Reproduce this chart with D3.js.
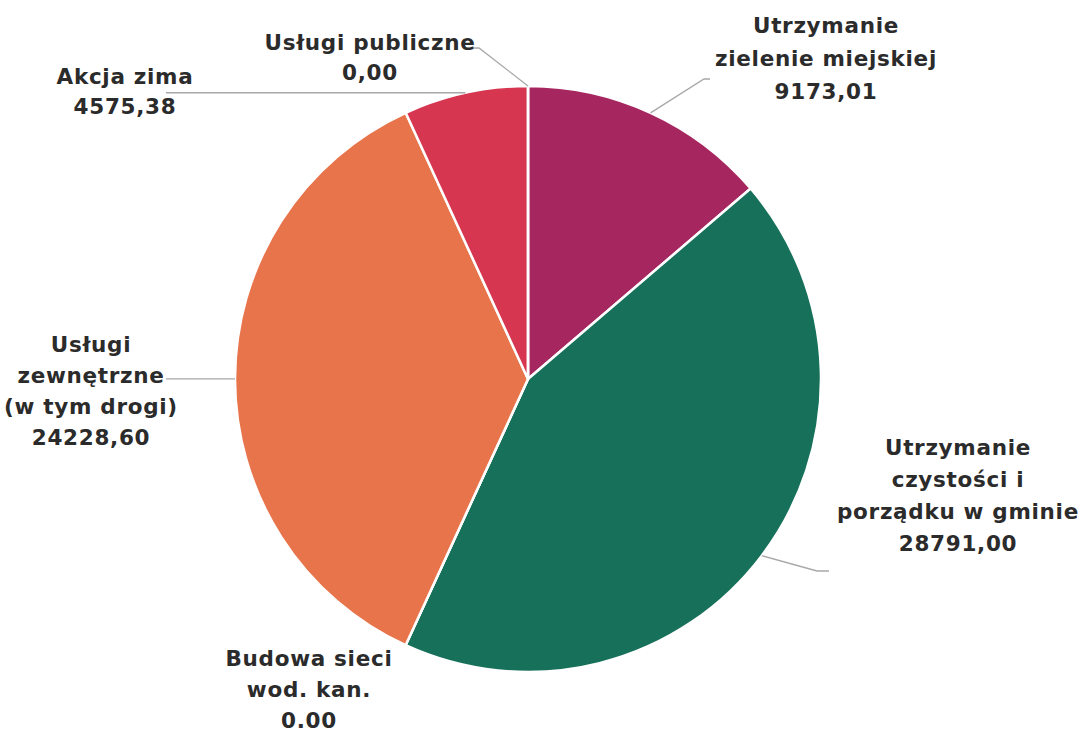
<!DOCTYPE html>
<html>
<head>
<meta charset="utf-8">
<script src="https://cdn.jsdelivr.net/npm/d3@7"></script>
<style>
  html, body { margin: 0; padding: 0; background: #ffffff; }
  svg { display: block; }
  text { font-family: "DejaVu Sans", sans-serif; font-weight: bold; fill: #2b2b2b; }
</style>
</head>
<body>
<svg id="chart" width="1086" height="733"></svg>
<script>
// ---- data ----
const categories = [
  ["Utrzymanie", "zielenie miejskiej"],
  ["Utrzymanie", "czystości i", "porządku w gminie"],
  ["Budowa sieci", "wod. kan."],
  ["Usługi", "zewnętrzne", "(w tym drogi)"],
  ["Akcja zima"],
  ["Usługi publiczne"]
];
const values = [9173.01, 28791.00, 0.00, 24228.60, 4575.38, 0.00];
const valueLabels = ["9173,01", "28791,00", "0.00", "24228,60", "4575,38", "0,00"];
const colors = ["#a62660", "#17705a", "#1f6f8b", "#e8744c", "#d63650", "#6b6b6b"];

// ---- layout (positions of labels, not data) ----
const cx = 528, cy = 379, R = 293;
const labelLayout = [
  { x: 826, y: 33,  lh: 33, lead: [[704, 79], [710, 79]] },
  { x: 958, y: 455, lh: 32, lead: [[817, 571], [829, 571]] },
  { x: 309, y: 666, lh: 31, lead: null },
  { x: 91,  y: 352, lh: 31, lead: [[166, "same"]] },
  { x: 125, y: 84,  lh: 30, lead: [[166, "same"]] },
  { x: 370, y: 50,  lh: 30, lead: [[479, 48], [473, 48]] }
];

const svg = d3.select("#chart");
const g = svg.append("g").attr("transform", `translate(${cx},${cy})`);

const pie = d3.pie().sort(null).value(d => d);
const arcs = pie(values);
const arc = d3.arc().innerRadius(0).outerRadius(R);

g.selectAll("path.slice")
  .data(arcs)
  .join("path")
  .attr("class", "slice")
  .attr("d", arc)
  .attr("fill", (d, i) => colors[i])
  .attr("stroke", "#ffffff")
  .attr("stroke-width", 2.5)
  .attr("stroke-linejoin", "round");

// leader lines
arcs.forEach((a, i) => {
  const L = labelLayout[i];
  if (!L.lead) return;
  const mid = (a.startAngle + a.endAngle) / 2;
  const px = cx + R * Math.sin(mid);
  const py = cy - R * Math.cos(mid);
  const pts = [[px, py]];
  L.lead.forEach(p => pts.push([p[0], p[1] === "same" ? py : p[1]]));
  svg.append("path")
    .attr("d", d3.line()(pts))
    .attr("fill", "none")
    .attr("stroke", "#a8a8a8")
    .attr("stroke-width", 1.3);
});

// labels
categories.forEach((lines, i) => {
  const L = labelLayout[i];
  const t = svg.append("text")
    .attr("text-anchor", "middle")
    .attr("font-size", 21.5)
    .attr("letter-spacing", 0.7);
  const all = lines.concat([valueLabels[i]]);
  all.forEach((s, k) => {
    t.append("tspan")
      .attr("x", L.x)
      .attr("y", L.y + k * L.lh)
      .text(s);
  });
});
</script>
</body>
</html>
